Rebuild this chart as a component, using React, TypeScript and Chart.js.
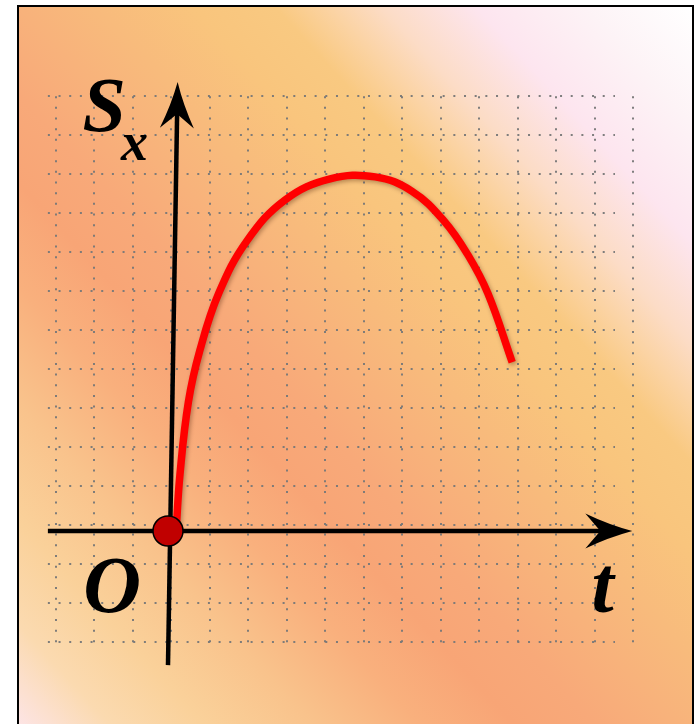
import React, { useEffect, useRef } from "react";
import { Chart, registerables } from "chart.js";

Chart.register(...registerables);

// ---- Data (grid units; O is the origin) ----
// Red curve S_x(t)
const CURVE_T = [0.21, 0.31, 0.53, 0.83, 1.32, 2.05, 3.04, 4.21, 5.38, 6.34, 7.17, 7.79, 8.31, 8.94];
const CURVE_S = [0, 1.44, 3.31, 4.64, 6.1, 7.44, 8.49, 9.03, 9.08, 8.71, 7.95, 7.08, 6.09, 4.33];

// Origin point
const ORIGIN_T = [0];
const ORIGIN_S = [0];

// Dotted grid lines (vertical at t, horizontal at s)
const GRID_T = [-2.91, -1.91, -0.91, 0.09, 1.09, 2.09, 3.09, 4.09, 5.09, 6.09, 7.09, 8.09, 9.09, 10.09, 11.09, 12.09];
const GRID_S = [11.15, 10.15, 9.15, 8.15, 7.15, 6.15, 5.15, 4.15, 3.15, 2.15, 1.15, 0.15, -0.85, -1.85, -2.85];
const GRID_T_EXTENT = [-3.12, 11.61];
const GRID_S_EXTENT = [-3.05, 11.15];

// Axes (t-axis along s=0, s-axis slightly tilted)
const T_AXIS_T = [-3.12, 12.06];
const S_AXIS_T = [0, 0.25];
const S_AXIS_S = [-3.44, 11.51];

// Labels
const LABEL_TEXT = ["S", "x", "O", "t"];
const LABEL_T = [-2.22, -1.22, -2.2, 11.0];
const LABEL_S = [10.26, 9.51, -2.08, -2.08];
const LABEL_FONT = [
  "italic bold 78px 'Liberation Serif'",
  "italic bold 54px 'Liberation Serif'",
  "italic bold 80px 'Liberation Serif'",
  "italic bold 80px 'Liberation Serif'",
];

function drawArrowHead(ctx: CanvasRenderingContext2D, tx: number, ty: number, dx: number, dy: number, len: number, hw: number, notch: number) {
  const px = -dy, py = dx;
  const bx = tx - dx * len, by = ty - dy * len;
  const nx = tx - dx * notch, ny = ty - dy * notch;
  ctx.beginPath();
  ctx.moveTo(tx, ty);
  const c1x = (tx + bx + px * hw) / 2 - px * 2.5, c1y = (ty + by + py * hw) / 2 - py * 2.5;
  ctx.quadraticCurveTo(c1x, c1y, bx + px * hw, by + py * hw);
  ctx.lineTo(nx, ny);
  ctx.lineTo(bx - px * hw, by - py * hw);
  const c2x = (tx + bx - px * hw) / 2 + px * 2.5, c2y = (ty + by - py * hw) / 2 + py * 2.5;
  ctx.quadraticCurveTo(c2x, c2y, tx, ty);
  ctx.closePath();
  ctx.fill();
}

const sketchPlugin = {
  id: "sketch",
  beforeDatasetsDraw(chart: any) {
    const { ctx } = chart;
    const x = chart.scales.x, y = chart.scales.y;
    ctx.save();
    ctx.strokeStyle = "rgba(120,120,120,0.95)";
    ctx.lineWidth = 2;
    ctx.lineCap = "butt";
    ctx.setLineDash([2, 8.67]);
    const yTop = y.getPixelForValue(GRID_S_EXTENT[1]);
    const yBot = y.getPixelForValue(GRID_S_EXTENT[0]);
    GRID_T.forEach((t) => {
      const px = Math.round(x.getPixelForValue(t));
      ctx.beginPath();
      ctx.moveTo(px, yTop);
      ctx.lineTo(px, yBot);
      ctx.stroke();
    });
    const xL = x.getPixelForValue(GRID_T_EXTENT[0]);
    const xR = x.getPixelForValue(GRID_T_EXTENT[1]);
    GRID_S.forEach((s) => {
      const py = Math.round(y.getPixelForValue(s));
      ctx.beginPath();
      ctx.moveTo(xL, py);
      ctx.lineTo(xR, py);
      ctx.stroke();
    });
    ctx.restore();
  },
  beforeDatasetDraw(chart: any, args: any) {
    if (args.index === 0) {
      const ctx = chart.ctx;
      ctx.save();
      ctx.shadowColor = "rgba(60,20,0,0.35)";
      ctx.shadowBlur = 4;
      ctx.shadowOffsetX = 1.5;
      ctx.shadowOffsetY = 2;
    }
  },
  afterDatasetDraw(chart: any, args: any) {
    if (args.index !== 0) return;
    const ctx = chart.ctx;
    ctx.restore();
    const x = chart.scales.x, y = chart.scales.y;
    ctx.save();
    ctx.strokeStyle = "#000";
    ctx.fillStyle = "#000";
    ctx.lineCap = "butt";
    ctx.lineWidth = 4.5;
    // t axis
    const y0 = y.getPixelForValue(0);
    const ax0 = x.getPixelForValue(T_AXIS_T[0]);
    const ax1 = x.getPixelForValue(T_AXIS_T[1]);
    ctx.beginPath();
    ctx.moveTo(ax0, y0);
    ctx.lineTo(ax1 - 30, y0);
    ctx.stroke();
    drawArrowHead(ctx, ax1, y0, 1, 0, 47, 17.5, 32);
    // s axis
    const sx0 = x.getPixelForValue(S_AXIS_T[0]);
    const sy0 = y.getPixelForValue(S_AXIS_S[0]);
    const sx1 = x.getPixelForValue(S_AXIS_T[1]);
    const sy1 = y.getPixelForValue(S_AXIS_S[1]);
    const L = Math.hypot(sx1 - sx0, sy1 - sy0);
    const dx = (sx1 - sx0) / L, dy = (sy1 - sy0) / L;
    ctx.beginPath();
    ctx.moveTo(sx0, sy0);
    ctx.lineTo(sx1 - dx * 30, sy1 - dy * 30);
    ctx.stroke();
    drawArrowHead(ctx, sx1, sy1, dx, dy, 46, 17, 32);
    ctx.restore();
  },
  afterDraw(chart: any) {
    const ctx = chart.ctx;
    const x = chart.scales.x, y = chart.scales.y;
    ctx.save();
    ctx.fillStyle = "#000";
    ctx.textBaseline = "alphabetic";
    ctx.textAlign = "left";
    LABEL_TEXT.forEach((txt, i) => {
      ctx.font = LABEL_FONT[i];
      ctx.fillText(txt, x.getPixelForValue(LABEL_T[i]), y.getPixelForValue(LABEL_S[i]));
    });
    ctx.restore();
  },
};

export default function App() {
  const ref = useRef<HTMLCanvasElement | null>(null);
  useEffect(() => {
    if (!ref.current) return;
    const chart = new Chart(ref.current, {
      type: "scatter",
      data: {
        datasets: [
          {
            data: CURVE_T.map((t, i) => ({ x: t, y: CURVE_S[i] })),
            showLine: true,
            borderColor: "#ff0000",
            borderWidth: 7.5,
            borderCapStyle: "butt",
            borderJoinStyle: "round",
            tension: 0.4,
            pointRadius: 0,
            fill: false,
            clip: false,
            order: 1,
          } as any,
          {
            data: ORIGIN_T.map((t, i) => ({ x: t, y: ORIGIN_S[i] })),
            pointRadius: 15,
            pointBackgroundColor: "#c00000",
            pointBorderColor: "#000",
            pointBorderWidth: 1.5,
            clip: false,
            order: 0,
          } as any,
        ],
      },
      options: {
        responsive: false,
        animation: false,
        events: [],
        layout: { padding: 0, autoPadding: false },
        plugins: { legend: { display: false }, tooltip: { enabled: false } },
        scales: {
          x: { type: "linear", min: -168 / 38.5, max: 530 / 38.5, display: false },
          y: { type: "linear", min: -193 / 39, max: 531 / 39, display: false },
        },
      },
      plugins: [sketchPlugin],
    });
    return () => chart.destroy();
  }, []);

  return (
    <div style={{ position: "absolute", left: 0, top: 0, width: 698, height: 724, overflow: "hidden", background: "#fff" }}>
      <div
        style={{
          position: "absolute",
          left: 17,
          top: 5,
          width: 677,
          height: 740,
          boxSizing: "border-box",
          border: "2px solid #000",
          background:
            "linear-gradient(to bottom left, #ffffff 0%, #fdf3f6 8%, #fde5ef 16%, #fcdcc6 23%, #fbd3a3 27%, #f9c981 31%, #f9c57d 37%, #f8bb7c 44%, #f8b27b 50%, #f8a979 56%, #f8a576 62%, #f9b07d 69%, #f9c38c 77%, #fad19a 85%, #fbdab0 92%, #fde6ee 100%)",
        }}
      />
      <canvas ref={ref} width={698} height={724} style={{ position: "absolute", left: 0, top: 0, display: "block" }} />
    </div>
  );
}
